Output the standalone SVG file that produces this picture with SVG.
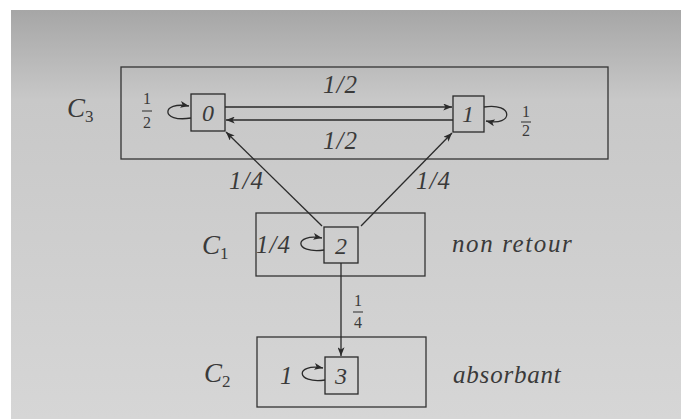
<svg xmlns="http://www.w3.org/2000/svg" width="681" height="419" viewBox="0 0 681 419">
<defs>
<linearGradient id="bg" x1="0" y1="0" x2="0" y2="1">
<stop offset="0" stop-color="#a6a6a6"/>
<stop offset="0.22" stop-color="#c8c8c8"/>
<stop offset="1" stop-color="#d6d6d6"/>
</linearGradient>
<marker id="ah" viewBox="0 0 10 8" refX="10" refY="4" markerWidth="9" markerHeight="7" markerUnits="userSpaceOnUse" orient="auto">
<path d="M0,0 L10,4 L0,8 L2.5,4 Z" fill="#2a2a2a"/>
</marker>
</defs>
<style>
.box{fill:none;stroke:#333;stroke-width:1.3}
.node{fill:none;stroke:#2a2a2a;stroke-width:1.3}
.edge{fill:none;stroke:#2a2a2a;stroke-width:1.3}
.t{font-family:"Liberation Serif","DejaVu Serif",serif;font-style:italic;fill:#3a3a3a;font-size:25px}
.w{letter-spacing:1.6px}
.w2{letter-spacing:0.8px}
.q{font-size:25px;letter-spacing:1px}
.f{font-family:"Liberation Serif","DejaVu Serif",serif;fill:#3a3a3a;font-size:16px;text-anchor:middle}
.c{font-family:"Liberation Serif","DejaVu Serif",serif;font-style:italic;fill:#3a3a3a;font-size:27px}
.s{font-size:17px;font-style:normal}
.n{text-anchor:middle;font-size:24px}
</style>
<rect width="681" height="419" fill="#ffffff"/>
<rect x="11" y="10" width="670" height="409" fill="url(#bg)"/>

<g id="C3">
<rect class="box" x="121" y="67" width="487" height="92"/>
<text class="c" x="67" y="117">C<tspan class="s" dy="5">3</tspan></text>
</g>
<g id="C1">
<rect class="box" x="256" y="213" width="169" height="63"/>
<text class="c" x="202" y="254">C<tspan class="s" dy="5">1</tspan></text>
<text class="t w" x="452" y="252">non retour</text>
</g>
<g id="C2">
<rect class="box" x="257" y="337" width="169" height="70"/>
<text class="c" x="204" y="382">C<tspan class="s" dy="5">2</tspan></text>
<text class="t w2" x="453" y="383">absorbant</text>
</g>

<g id="n0">
<rect class="node" x="191" y="94" width="34" height="37"/>
<text class="t n" x="208" y="121">0</text>
<path class="edge" d="M191,118 C160,123 161,101 189,106" marker-end="url(#ah)"/>
<text class="f" x="147" y="104">1</text>
<line x1="142" y1="111" x2="152" y2="111" stroke="#3a3a3a" stroke-width="1.1"/>
<text class="f" x="147" y="128">2</text>
</g>
<g id="n1">
<rect class="node" x="453" y="96" width="31" height="36"/>
<text class="t n" x="468" y="122">1</text>
<path class="edge" d="M484,107 C514,102 514,127 486,121" marker-end="url(#ah)"/>
<text class="f" x="526" y="117">1</text>
<line x1="521" y1="122" x2="531" y2="122" stroke="#3a3a3a" stroke-width="1.1"/>
<text class="f" x="526" y="136">2</text>
</g>
<g id="n2">
<rect class="node" x="324" y="227" width="34" height="36"/>
<text class="t n" x="341" y="254">2</text>
<path class="edge" d="M324,250 C293,254 294,233 322,238" marker-end="url(#ah)"/>
<text class="t q" x="256" y="253">1/4</text>
</g>
<g id="n3">
<rect class="node" x="325" y="357" width="33" height="37"/>
<text class="t n" x="341" y="384">3</text>
<path class="edge" d="M325,380 C295,384 295,363 323,368" marker-end="url(#ah)"/>
<text class="t" x="280" y="384">1</text>
</g>

<g id="connectors">
<line class="edge" x1="225" y1="107" x2="452" y2="107" marker-end="url(#ah)"/>
<line class="edge" x1="453" y1="120" x2="226" y2="120" marker-end="url(#ah)"/>
<line class="edge" x1="322" y1="226" x2="226" y2="132" marker-end="url(#ah)"/>
<line class="edge" x1="361" y1="226" x2="452" y2="133" marker-end="url(#ah)"/>
<line class="edge" x1="341" y1="263" x2="341" y2="356" marker-end="url(#ah)"/>
<text class="t q" x="323" y="93">1/2</text>
<text class="t q" x="323" y="149">1/2</text>
<text class="t q" x="229" y="189">1/4</text>
<text class="t q" x="416" y="189">1/4</text>
<text class="f" x="358" y="306">1</text>
<line x1="353" y1="312" x2="363" y2="312" stroke="#3a3a3a" stroke-width="1.1"/>
<text class="f" x="358" y="328">4</text>
</g>
</svg>
